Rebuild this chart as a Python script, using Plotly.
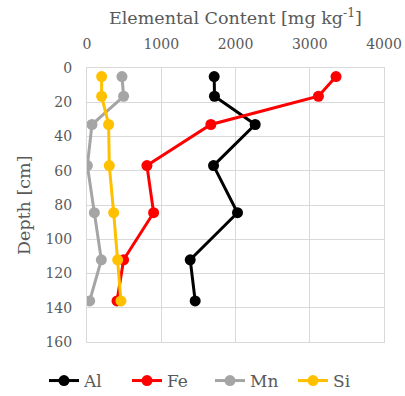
import plotly.graph_objects as go

depth = [5, 16.5, 33, 57, 84.5, 112, 136]
al = [1713, 1717, 2265, 1704, 2027, 1390, 1457]
fe = [3354, 3117, 1668, 807, 897, 493, 404]
mn = [471, 493, 67, 5, 99, 193, 36]
si = [197, 197, 291, 300, 359, 413, 457]

series = [("Al", al, "#000000"), ("Fe", fe, "#ff0000"), ("Mn", mn, "#a5a5a5"), ("Si", si, "#ffc000")]

fig = go.Figure()
for name, vals, col in series:
    fig.add_trace(go.Scatter(x=vals, y=depth, name=name, mode="lines+markers",
                             line=dict(color=col, width=3), marker=dict(color=col, size=11)))

FAM = "DejaVu Serif"
GREY = "#595959"
L, R, T, B, W, H = 87, 21, 68, 54, 405, 396
pw, ph = W - L - R, H - T - B
fig.update_layout(
    width=W, height=H, margin=dict(l=L, r=R, t=T, b=B, autoexpand=False),
    paper_bgcolor="white", plot_bgcolor="white", font=dict(family=FAM, color=GREY, size=14),
    xaxis=dict(side="top", range=[0, 4000], dtick=1000, showgrid=True, gridcolor="#d9d9d9",
               zeroline=True, zerolinecolor="#d9d9d9", zerolinewidth=1, automargin=False,
               ticks="outside", ticklen=12, tickcolor="rgba(0,0,0,0)", tickangle=0,
               showline=True, linecolor="#d9d9d9", mirror=True),
    yaxis=dict(range=[160, 0], dtick=20, showgrid=True, gridcolor="#d9d9d9",
               zeroline=False, automargin=False,
               ticks="outside", ticklen=11, tickcolor="rgba(0,0,0,0)",
               showline=True, linecolor="#d9d9d9", mirror=True),
    legend=dict(orientation="h", x=(44 - L) / pw, xanchor="left", xref="paper",
                y=(H - B - 381) / ph, yanchor="middle", yref="paper",
                font=dict(size=17), itemwidth=30, entrywidth=38, entrywidthmode="pixels",
                tracegroupgap=0),
    showlegend=True,
    annotations=[
        dict(text="Elemental Content [mg kg<sup>-1</sup>]", x=0.5, xref="paper",
             y=(H - B - 17) / ph, yref="paper",
             yanchor="middle", showarrow=False, font=dict(size=17.5, color=GREY, family=FAM)),
        dict(text="Depth [cm]", textangle=-90, x=(24 - L) / pw, xref="paper", xanchor="center",
             y=0.5, yref="paper", yanchor="middle", showarrow=False,
             font=dict(size=17.5, color=GREY, family=FAM)),
    ],
)
fig.write_html("out.html", config={"displayModeBar": False},
               post_script="document.body.style.margin='0';document.body.style.overflow='hidden';")
